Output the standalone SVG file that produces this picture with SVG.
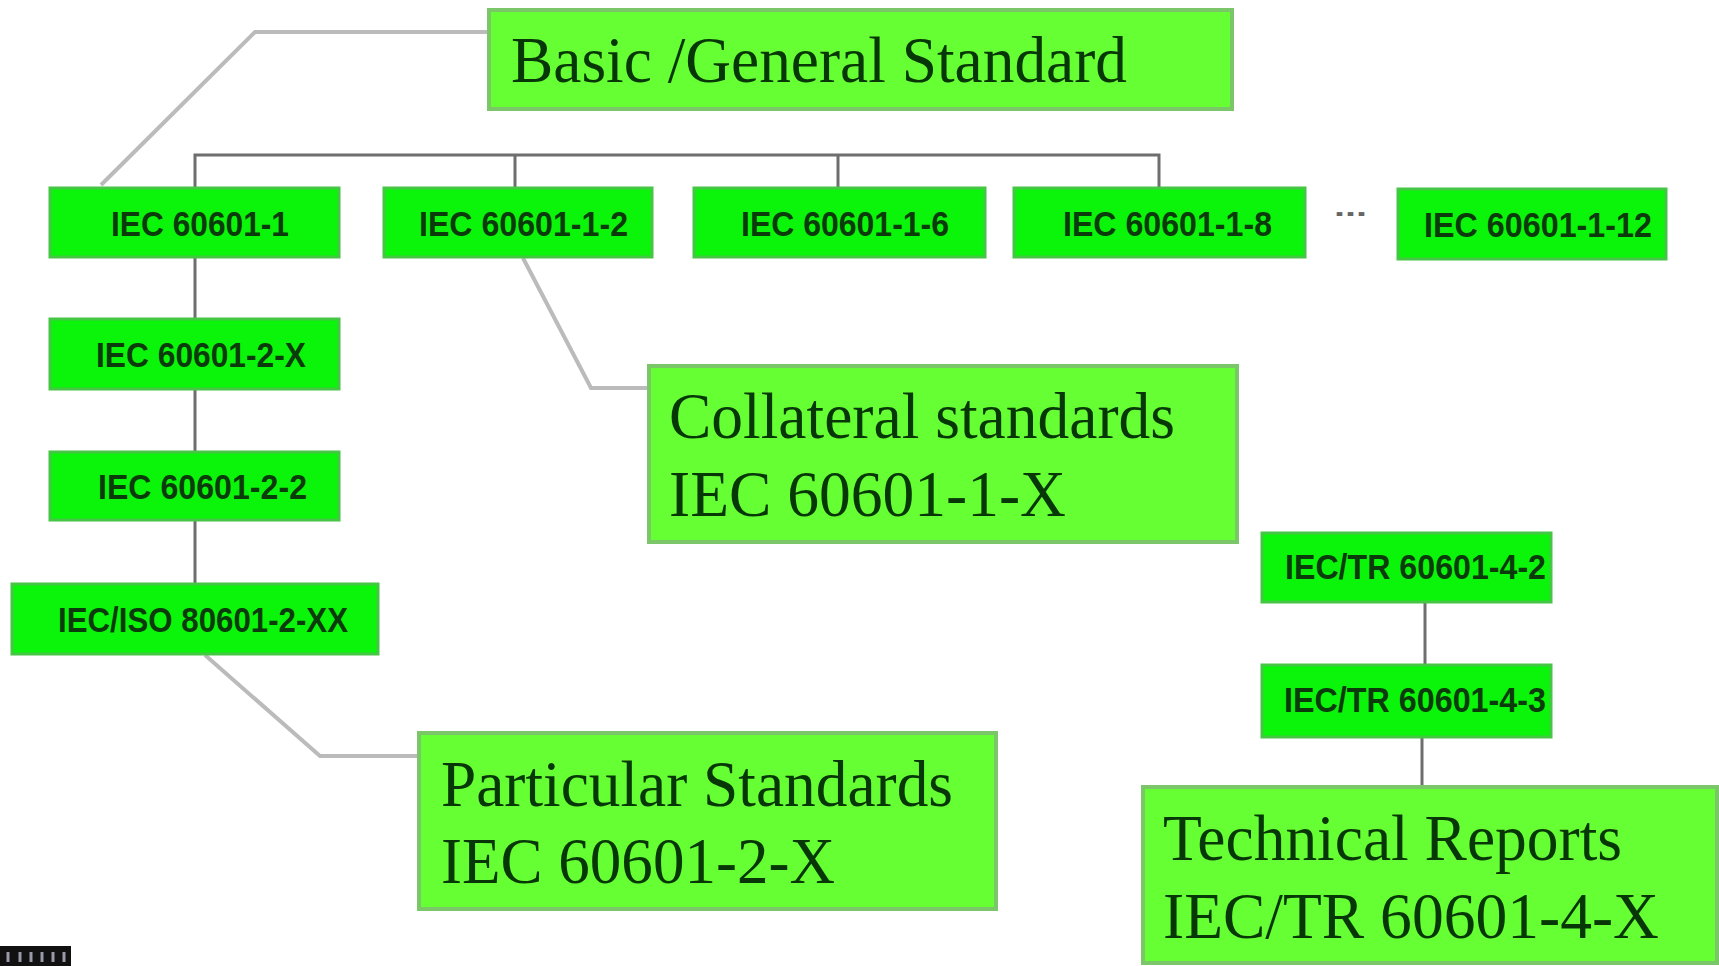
<svg xmlns="http://www.w3.org/2000/svg" width="1719" height="966" viewBox="0 0 1719 966">
<style>
.big{fill:#66FF33;stroke:#7CC66A;stroke-width:4}
.small{fill:#0BF50B;stroke:#45C645;stroke-width:3}
.bt{font-family:"Liberation Serif","Times New Roman",serif;fill:#073607;font-size:66px}
.st{font-family:"Liberation Sans",Arial,sans-serif;font-weight:bold;fill:#0B3A0B;font-size:35px}
.dark{fill:none;stroke:#6E6E6E;stroke-width:3}
.light{fill:none;stroke:#BBBBBB;stroke-width:4}
</style>
<rect width="1719" height="966" fill="#ffffff"/>
<g id="connectors">
<path class="light" d="M488,32 H255 L101,185"/>
<path class="dark" d="M195,187 V155 H1159 V187 M515,155 V187 M838,155 V187"/>
<path class="dark" d="M195,257 V583" stroke-width="2.5"/>
<path class="light" d="M523,258 L591,388 H648"/>
<path class="light" d="M205,655 L320,756 H418"/>
<path class="dark" d="M1425,602 V664" stroke-width="2.5"/>
<path class="dark" d="M1422,738 V787" stroke-width="2" stroke="#8A8A8A"/>
</g>
<g id="basic">
<rect class="big" x="489" y="10" width="743" height="99"/>
<text class="bt" x="511" y="82" textLength="616" lengthAdjust="spacingAndGlyphs" font-size="69">Basic /General Standard</text>
</g>
<g id="n1">
<rect class="small" x="50" y="188" width="289" height="69"/>
<text class="st" x="111" y="236" textLength="178" lengthAdjust="spacingAndGlyphs">IEC 60601-1</text>
</g>
<g id="n12">
<rect class="small" x="384" y="188" width="268" height="69"/>
<text class="st" x="419" y="236" textLength="209" lengthAdjust="spacingAndGlyphs">IEC 60601-1-2</text>
</g>
<g id="n16">
<rect class="small" x="694" y="188" width="291" height="69"/>
<text class="st" x="741" y="236" textLength="208" lengthAdjust="spacingAndGlyphs">IEC 60601-1-6</text>
</g>
<g id="n18">
<rect class="small" x="1014" y="188" width="291" height="69"/>
<text class="st" x="1063" y="236" textLength="209" lengthAdjust="spacingAndGlyphs">IEC 60601-1-8</text>
</g>
<g id="dots">
<text x="1334" y="216" font-family="Liberation Sans,Arial,sans-serif" font-weight="bold" font-size="26" fill="#666666" textLength="33" lengthAdjust="spacingAndGlyphs">...</text>
</g>
<g id="n112">
<rect class="small" x="1398" y="189" width="268" height="70"/>
<text class="st" x="1424" y="237" textLength="228" lengthAdjust="spacingAndGlyphs">IEC 60601-1-12</text>
</g>
<g id="n2x">
<rect class="small" x="50" y="319" width="289" height="70"/>
<text class="st" x="96" y="367" textLength="210" lengthAdjust="spacingAndGlyphs">IEC 60601-2-X</text>
</g>
<g id="n22">
<rect class="small" x="50" y="452" width="289" height="68"/>
<text class="st" x="98" y="499" textLength="209" lengthAdjust="spacingAndGlyphs">IEC 60601-2-2</text>
</g>
<g id="niso">
<rect class="small" x="12" y="584" width="366" height="70"/>
<text class="st" x="58" y="632" textLength="290" lengthAdjust="spacingAndGlyphs">IEC/ISO 80601-2-XX</text>
</g>
<g id="collateral">
<rect class="big" x="649" y="366" width="588" height="176"/>
<text class="bt" x="669" y="438" textLength="506" lengthAdjust="spacingAndGlyphs" font-size="64">Collateral standards</text>
<text class="bt" x="669" y="516" textLength="397" lengthAdjust="spacingAndGlyphs" font-size="64">IEC 60601-1-X</text>
</g>
<g id="tr42">
<rect class="small" x="1262" y="533" width="289" height="69"/>
<text class="st" x="1285" y="579" textLength="261" lengthAdjust="spacingAndGlyphs">IEC/TR 60601-4-2</text>
</g>
<g id="tr43">
<rect class="small" x="1262" y="665" width="289" height="72"/>
<text class="st" x="1284" y="712" textLength="262" lengthAdjust="spacingAndGlyphs">IEC/TR 60601-4-3</text>
</g>
<g id="particular">
<rect class="big" x="419" y="733" width="577" height="176"/>
<text class="bt" x="441" y="806" textLength="512" lengthAdjust="spacingAndGlyphs" font-size="66">Particular Standards</text>
<text class="bt" x="441" y="883" textLength="394" lengthAdjust="spacingAndGlyphs" font-size="66">IEC 60601-2-X</text>
</g>
<g id="technical">
<rect class="big" x="1143" y="787" width="574" height="176"/>
<text class="bt" x="1163" y="860" textLength="459" lengthAdjust="spacingAndGlyphs" font-size="68">Technical Reports</text>
<text class="bt" x="1163" y="938" textLength="496" lengthAdjust="spacingAndGlyphs" font-size="68">IEC/TR 60601-4-X</text>
</g>
<g id="corner-icon">
<rect x="0" y="946" width="71" height="20" fill="#111111"/>
<path d="M8,952 V962 M20,952 V962 M31,952 V962 M42,952 V962 M53,952 V962 M64,952 V962" stroke="#9999AA" stroke-width="3"/>
</g>
</svg>
